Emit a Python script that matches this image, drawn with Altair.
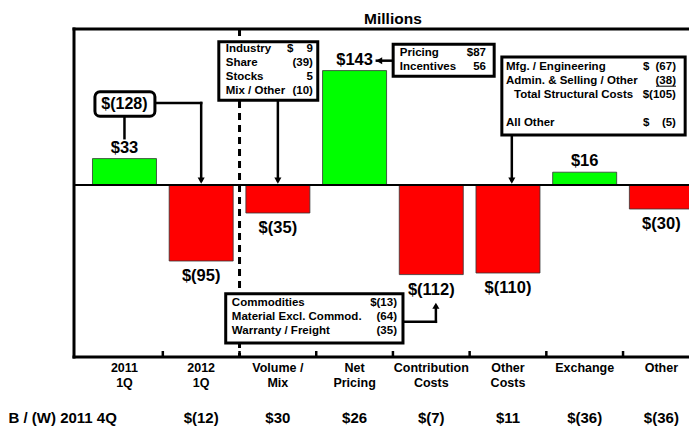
import altair as alt
import pandas as pd

# ---------------- data ----------------
cat_line1 = ["2011", "2012", "Volume /", "Net", "Contribution", "Other", "Exchange", "Other"]
cat_line2 = ["1Q", "1Q", "Mix", "Pricing", "Costs", "Costs", "", ""]
values = [33, -95, -35, 143, -112, -110, 16, -30]
value_labels = ["$33", "$(95)", "$(35)", "$143", "$(112)", "$(110)", "$16", "$(30)"]
bw_title = "B / (W) 2011 4Q"
bw_labels = ["", "$(12)", "$30", "$26", "$(7)", "$11", "$(36)", "$(36)"]
total_label = "$(128)"
title_text = "Millions"

industry_labels = ["Industry", "Share", "Stocks", "Mix / Other"]
industry_values = ["9", "(39)", "5", "(10)"]
industry_dollar = ["$", "", "", ""]

pricing_labels = ["Pricing", "Incentives"]
pricing_values = ["$87", "56"]

structural_labels = ["Mfg. / Engineering", "Admin. & Selling / Other", "Total Structural Costs", "All Other"]
structural_values = ["(67)", "(38)", "$(105)", "(5)"]
structural_dollar = ["$", "", "", "$"]

commod_labels = ["Commodities", "Material Excl. Commod.", "Warranty / Freight"]
commod_values = ["$(13)", "(64)", "(35)"]

# ---------------- layout (data units: x = category index, y = $M) ----------------
XMIN, XMAX = -0.658, 7.36
YMIN, YMAX = -215, 195
FONT = "Liberation Sans"

XS = alt.Scale(domain=[XMIN, XMAX], nice=False, zero=False, padding=0)
YS = alt.Scale(domain=[YMIN, YMAX], nice=False, zero=False, padding=0)


def X(f):
    return alt.X(f, type="quantitative", scale=XS, axis=None)


def Y(f):
    return alt.Y(f, type="quantitative", scale=YS, axis=None)


bars_df = pd.DataFrame({
    "idx": list(range(len(values))),
    "value": values,
    "label": value_labels,
    "line1": cat_line1,
    "line2": cat_line2,
    "bw": bw_labels,
    "zero": [0] * len(values),
})

bars = alt.Chart(bars_df).mark_bar(size=64, stroke="#333333", strokeWidth=0.8).encode(
    x=X("idx"), y=Y("value"), y2=alt.Y2("zero"),
    fill=alt.condition("datum.value > 0", alt.value("#00FF00"), alt.value("#FF0000")),
)

# frame, zero line, ticks
frame_df = pd.DataFrame({
    "x": [XMIN, XMIN, XMIN],
    "x2": [XMAX + 0.1, XMIN, XMAX + 0.1],
    "y": [YMAX, YMIN, YMIN],
    "y2": [YMAX, YMAX, YMIN],
})
frame = alt.Chart(frame_df).mark_rule(color="black", strokeWidth=3, strokeCap="square").encode(
    x=X("x"), x2=alt.X2("x2"), y=Y("y"), y2=alt.Y2("y2"))

zero_df = pd.DataFrame({"x": [XMIN], "x2": [XMAX + 0.1], "y": [0]})
zero_line = alt.Chart(zero_df).mark_rule(color="black", strokeWidth=2).encode(
    x=X("x"), x2=alt.X2("x2"), y=Y("y"))

tick_df = pd.DataFrame({"x": [i + 0.5 for i in range(len(values) - 1)]})
tick_df["y"] = YMIN
tick_df["y2"] = YMIN + 7.5
ticks = alt.Chart(tick_df).mark_rule(color="black", strokeWidth=2.5).encode(
    x=X("x"), y=Y("y"), y2=alt.Y2("y2"))

dash_df = pd.DataFrame({"x": [1.5], "y": [YMAX], "y2": [YMIN]})
dashed = alt.Chart(dash_df).mark_rule(color="black", strokeWidth=3, strokeDash=[7, 5]).encode(
    x=X("x"), y=Y("y"), y2=alt.Y2("y2"))

# connectors
conn_df = pd.DataFrame([
    {"x": 0.0, "x2": 0.0, "y": 86, "y2": 58.5},          # $(128) -> $33
    {"x": 0.397, "x2": 1.0, "y": 102.5, "y2": 102.5},    # $(128) -> 2012 1Q
    {"x": 1.0, "x2": 1.0, "y": 102.5, "y2": 6},
    {"x": 2.0, "x2": 2.0, "y": 106, "y2": 6},            # Industry box -> Volume/Mix
    {"x": 3.29, "x2": 3.503, "y": 155.4, "y2": 155.4},   # Pricing box -> $143
    {"x": 5.05, "x2": 5.05, "y": 62.5, "y2": 6},         # Structural box -> Other Costs
    {"x": 3.631, "x2": 4.06, "y": -171, "y2": -171},     # Commodities box -> $(112)
    {"x": 4.06, "x2": 4.06, "y": -171, "y2": -152},
])
connectors = alt.Chart(conn_df).mark_rule(color="black", strokeWidth=2.5, strokeCap="square").encode(
    x=X("x"), x2=alt.X2("x2"), y=Y("y"), y2=alt.Y2("y2"))

heads_df = pd.DataFrame([
    {"x": 1.0, "y": 5.5, "shape": "triangle-down"},
    {"x": 2.0, "y": 5.5, "shape": "triangle-down"},
    {"x": 5.05, "y": 5.5, "shape": "triangle-down"},
    {"x": 3.32, "y": 155.4, "shape": "triangle-left"},
    {"x": 4.06, "y": -151, "shape": "triangle-up"},
])
heads = alt.Chart(heads_df).mark_point(filled=True, size=50, color="black", opacity=1).encode(
    x=X("x"), y=Y("y"), shape=alt.Shape("shape:N", scale=None))

# boxes
box_df = pd.DataFrame([
    {"x": 1.23, "x2": 2.52, "y": 106, "y2": 179},      # industry
    {"x": 3.503, "x2": 4.82, "y": 136, "y2": 176},     # pricing
    {"x": 4.92, "x2": 7.31, "y": 62.5, "y2": 160},     # structural
    {"x": 1.32, "x2": 3.631, "y": -197.5, "y2": -136},  # commodities
])
boxes = alt.Chart(box_df).mark_rect(fill="white", stroke="black", strokeWidth=3).encode(
    x=X("x"), x2=alt.X2("x2"), y=Y("y"), y2=alt.Y2("y2"))

total_df = pd.DataFrame([{"x": -0.385, "x2": 0.397, "y": 86, "y2": 116.5, "cx": 0.0, "cy": 101.25,
                          "text": total_label}])
total_box = alt.Chart(total_df).mark_rect(fill="white", stroke="black", strokeWidth=3, cornerRadius=5).encode(
    x=X("x"), x2=alt.X2("x2"), y=Y("y"), y2=alt.Y2("y2"))
total_text = alt.Chart(total_df).mark_text(font=FONT, fontSize=16, fontWeight="bold", baseline="middle").encode(
    x=X("cx"), y=Y("cy"), text="text:N")

# box texts
left_rows, right_rows = [], []
ind_y = [170.6, 152.5, 135, 117.5]
for lab, val, dol, yy in zip(industry_labels, industry_values, industry_dollar, ind_y):
    left_rows.append({"x": 1.32, "y": yy, "text": lab})
    right_rows.append({"x": 2.457, "y": yy, "text": val})
    if dol:
        left_rows.append({"x": 2.12, "y": yy, "text": dol})
pr_y = [165.6, 147.5]
for lab, val, yy in zip(pricing_labels, pricing_values, pr_y):
    left_rows.append({"x": 3.59, "y": yy, "text": lab})
    right_rows.append({"x": 4.713, "y": yy, "text": val})
st_y = [147.5, 130, 113, 77]
st_x = [4.974, 4.974, 5.078, 4.974]
for lab, val, dol, yy, xx in zip(structural_labels, structural_values, structural_dollar, st_y, st_x):
    left_rows.append({"x": xx, "y": yy, "text": lab})
    right_rows.append({"x": 7.19, "y": yy, "text": val})
    if dol:
        left_rows.append({"x": 6.76, "y": yy, "text": dol})
cm_y = [-147, -164.4, -181.9]
for lab, val, yy in zip(commod_labels, commod_values, cm_y):
    left_rows.append({"x": 1.40, "y": yy, "text": lab})
    right_rows.append({"x": 3.553, "y": yy, "text": val})

box_text_left = alt.Chart(pd.DataFrame(left_rows)).mark_text(
    font=FONT, fontSize=11.5, fontWeight="bold", align="left", baseline="middle").encode(
    x=X("x"), y=Y("y"), text="text:N")
box_text_right = alt.Chart(pd.DataFrame(right_rows)).mark_text(
    font=FONT, fontSize=11.5, fontWeight="bold", align="right", baseline="middle").encode(
    x=X("x"), y=Y("y"), text="text:N")

under_df = pd.DataFrame({"x": [6.93], "x2": [7.19], "y": [123.5]})
underline = alt.Chart(under_df).mark_rule(color="black", strokeWidth=1).encode(
    x=X("x"), x2=alt.X2("x2"), y=Y("y"))

# value labels
pos_labels = alt.Chart(bars_df).transform_filter("datum.value > 0").mark_text(
    font=FONT, fontSize=16.5, fontWeight="bold", baseline="alphabetic", dy=-6).encode(
    x=X("idx"), y=Y("value"), text="label:N")
neg_labels = alt.Chart(bars_df).transform_filter("datum.value < 0").mark_text(
    font=FONT, fontSize=16.5, fontWeight="bold", baseline="top", dy=7).encode(
    x=X("idx"), y=Y("value"), text="label:N")

# category labels
cat_df = bars_df.copy()
cat_df["y1"] = -228.75
cat_df["y2"] = -247.5
cat_df["yb"] = -291.25
cat1 = alt.Chart(cat_df).mark_text(font=FONT, fontSize=12.5, fontWeight="bold", baseline="middle").encode(
    x=X("idx"), y=Y("y1"), text="line1:N")
cat2 = alt.Chart(cat_df).mark_text(font=FONT, fontSize=12.5, fontWeight="bold", baseline="middle").encode(
    x=X("idx"), y=Y("y2"), text="line2:N")
bw_row = alt.Chart(cat_df).mark_text(font=FONT, fontSize=15, fontWeight="bold", baseline="middle").encode(
    x=X("idx"), y=Y("yb"), text="bw:N")
bw_head_df = pd.DataFrame({"x": [-1.512], "y": [-291.25], "text": [bw_title]})
bw_head = alt.Chart(bw_head_df).mark_text(font=FONT, fontSize=15, fontWeight="bold", baseline="middle",
                                          align="left").encode(x=X("x"), y=Y("y"), text="text:N")

title_df = pd.DataFrame({"x": [3.5], "y": [207.5], "text": [title_text]})
title = alt.Chart(title_df).mark_text(font=FONT, fontSize=15.5, fontWeight="bold", baseline="middle").encode(
    x=X("x"), y=Y("y"), text="text:N")

chart = alt.layer(
    bars, zero_line, dashed, frame, ticks, connectors, heads,
    boxes, total_box, total_text, box_text_left, box_text_right, underline,
    pos_labels, neg_labels, cat1, cat2, bw_row, bw_head, title,
).properties(
    width=615, height=328,
    padding={"left": 66, "top": 21, "right": 0, "bottom": 70},
    autosize=alt.AutoSizeParams(type="none"),
).configure_view(stroke=None)

chart.save("out.html", embed_options={"renderer": "svg", "actions": False})
